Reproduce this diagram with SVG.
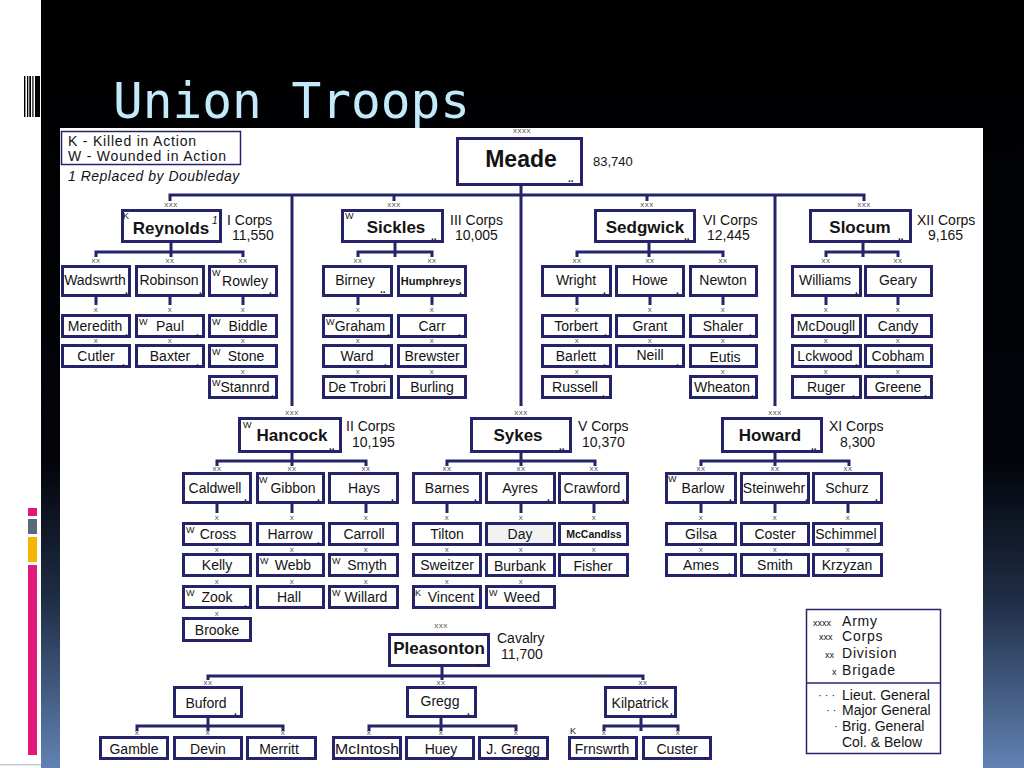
<svg xmlns="http://www.w3.org/2000/svg" width="1024" height="768" viewBox="0 0 1024 768">
<defs>
<linearGradient id="bg" x1="0" y1="0" x2="0" y2="1">
<stop offset="0" stop-color="#000"/>
<stop offset="0.6" stop-color="#02040a"/>
<stop offset="0.78" stop-color="#1f2d45"/>
<stop offset="1" stop-color="#6282b3"/>
</linearGradient>
<style>
.bx{fill:#fff;stroke:#25246b;stroke-width:3}
.ln{fill:none;stroke:#25246b;stroke-width:3}
text{font-family:"Liberation Sans",Arial,sans-serif;fill:#141414}
.n{font-size:14px;text-anchor:middle}
.cb{font-size:17px;font-weight:bold;text-anchor:middle}
.cl{font-size:14px}
.sp{font-size:9px}
.x{font-size:8px;text-anchor:middle;fill:#555;letter-spacing:0.5px}
.d{font-size:10px;font-weight:bold}
.lg{font-size:14px;letter-spacing:0.8px}
</style>
</defs>
<rect x="0" y="0" width="1024" height="768" fill="url(#bg)"/>
<rect x="0" y="0" width="41" height="768" fill="#fff"/>
<rect x="0" y="764" width="41" height="1.5" fill="#c8c8d0"/>
<g id="barcode" fill="#000">
<rect x="24" y="76" width="1.4" height="41"/>
<rect x="27" y="76" width="1.3" height="41"/>
<rect x="29.3" y="76" width="1.7" height="41"/>
<rect x="32.3" y="76" width="1.2" height="41"/>
<rect x="35" y="76" width="5" height="41"/>
</g>
<g id="sidebars">
<rect x="28" y="508" width="9" height="8" fill="#e2187b"/>
<rect x="28" y="519" width="9" height="15" fill="#5b6a7b"/>
<rect x="28" y="537" width="9" height="25" fill="#f6b500"/>
<rect x="28" y="565" width="9" height="190" fill="#e2187b"/>
</g>
<text x="113" y="118" font-size="49" textLength="357" lengthAdjust="spacingAndGlyphs" style="font-family:'DejaVu Sans Mono',monospace;fill:#c3eafa">Union Troops</text>
<rect x="60" y="128" width="923" height="640" fill="#fff"/>

<g id="legend-top">
<rect x="61.5" y="131.5" width="179" height="33" fill="#fff" stroke="#25246b" stroke-width="1.5"/>
<text class="lg" x="68" y="146">K - Killed in Action</text>
<text class="lg" x="68" y="161">W - Wounded in Action</text>
<text x="68" y="181" font-size="14" font-style="italic" letter-spacing="0.5">1 Replaced by Doubleday</text>
</g>

<g id="connectors" class="ln">
<path d="M521,186 V406"/>
<path d="M170,201 V195 H864 V201"/>
<path d="M292,195 V406"/>
<path d="M394,195 V201"/>
<path d="M647,195 V201"/>
<path d="M775,195 V406"/>
<path d="M171,243 V257 M96,257 V252 H243 V257 M96,297 V305 M170,297 V305 M243,297 V305"/>
<path d="M395,243 V257 M358,257 V252 H432 V257 M358,296 V305 M432,296 V305"/>
<path d="M649,243 V257 M577,257 V252 H723 V257 M577,297 V305 M650,297 V305 M723,297 V305"/>
<path d="M863,243 V257 M826,257 V252 H898 V257 M826,297 V305 M898,297 V305"/>
<path d="M292,453 V466 M217,466 V461 H366 V466 M217,504 V513 M292,504 V513 M366,504 V513"/>
<path d="M521,453 V466 M447,466 V461 H595 V466 M447,504 V513 M521,504 V513 M594,504 V513"/>
<path d="M775,453 V466 M701,466 V461 H849 V466 M701,504 V513 M775,504 V513 M848,504 V513"/>
<path d="M442,667 V680 M208,680 V676 H643 V680"/>
<path d="M208,718 V731 M137,731 V726 H283 V731"/>
<path d="M441,718 V731 M369,731 V726 H516 V731"/>
<path d="M641,718 V731 M604,731 V726 H678 V731"/>
</g>

<g id="ech-labels">
<text class="x" x="522" y="133">xxxx</text>
<text class="x" x="171" y="207">xxx</text>
<text class="x" x="394" y="207">xxx</text>
<text class="x" x="647" y="207">xxx</text>
<text class="x" x="864" y="207">xxx</text>
<text class="x" x="292" y="415">xxx</text>
<text class="x" x="521" y="415">xxx</text>
<text class="x" x="775" y="415">xxx</text>
<text class="x" x="441" y="628">xxx</text>
<text class="x" x="96" y="263">xx</text><text class="x" x="170" y="263">xx</text><text class="x" x="243" y="263">xx</text>
<text class="x" x="358" y="263">xx</text><text class="x" x="432" y="263">xx</text>
<text class="x" x="577" y="263">xx</text><text class="x" x="650" y="263">xx</text><text class="x" x="723" y="263">xx</text>
<text class="x" x="826" y="263">xx</text><text class="x" x="898" y="263">xx</text>
<text class="x" x="217" y="471">xx</text><text class="x" x="292" y="471">xx</text><text class="x" x="366" y="471">xx</text>
<text class="x" x="447" y="471">xx</text><text class="x" x="521" y="471">xx</text><text class="x" x="594" y="471">xx</text>
<text class="x" x="701" y="471">xx</text><text class="x" x="775" y="471">xx</text><text class="x" x="848" y="471">xx</text>
<text class="x" x="208" y="685">xx</text><text class="x" x="441" y="685">xx</text><text class="x" x="643" y="685">xx</text>
<text class="x" x="96" y="312">x</text><text class="x" x="96" y="343">x</text>
<text class="x" x="170" y="312">x</text><text class="x" x="170" y="343">x</text>
<text class="x" x="243" y="312">x</text><text class="x" x="243" y="343">x</text><text class="x" x="243" y="374">x</text>
<text class="x" x="358" y="312">x</text><text class="x" x="358" y="343">x</text><text class="x" x="358" y="374">x</text>
<text class="x" x="432" y="312">x</text><text class="x" x="432" y="343">x</text><text class="x" x="432" y="374">x</text>
<text class="x" x="577" y="312">x</text><text class="x" x="577" y="343">x</text><text class="x" x="577" y="374">x</text>
<text class="x" x="650" y="312">x</text><text class="x" x="650" y="343">x</text>
<text class="x" x="723" y="312">x</text><text class="x" x="723" y="343">x</text><text class="x" x="723" y="374">x</text>
<text class="x" x="826" y="312">x</text><text class="x" x="826" y="343">x</text><text class="x" x="826" y="374">x</text>
<text class="x" x="898" y="312">x</text><text class="x" x="898" y="343">x</text><text class="x" x="898" y="374">x</text>
<text class="x" x="217" y="520">x</text><text class="x" x="217" y="552">x</text><text class="x" x="217" y="584">x</text><text class="x" x="217" y="616">x</text>
<text class="x" x="292" y="520">x</text><text class="x" x="292" y="552">x</text><text class="x" x="292" y="584">x</text>
<text class="x" x="366" y="520">x</text><text class="x" x="366" y="552">x</text><text class="x" x="366" y="584">x</text>
<text class="x" x="447" y="520">x</text><text class="x" x="447" y="552">x</text><text class="x" x="447" y="584">x</text>
<text class="x" x="521" y="520">x</text><text class="x" x="521" y="552">x</text><text class="x" x="521" y="584">x</text>
<text class="x" x="594" y="520">x</text><text class="x" x="594" y="552">x</text>
<text class="x" x="701" y="520">x</text><text class="x" x="701" y="552">x</text>
<text class="x" x="775" y="520">x</text><text class="x" x="775" y="552">x</text>
<text class="x" x="848" y="520">x</text><text class="x" x="848" y="552">x</text>
<text class="x" x="137" y="735">x</text><text class="x" x="208" y="735">x</text><text class="x" x="283" y="735">x</text>
<text class="x" x="369" y="735">x</text><text class="x" x="441" y="735">x</text><text class="x" x="516" y="735">x</text>
<text class="x" x="604" y="735">x</text><text class="x" x="678" y="735">x</text>
</g>

<g id="meade">
<rect class="bx" x="457.5" y="138.5" width="124" height="46"/>
<text x="521" y="167" font-size="23" font-weight="bold" text-anchor="middle">Meade</text>
<text class="d" x="568" y="182">..</text>
<text x="593" y="166" font-size="13">83,740</text>
</g>

<g id="reynolds">
<rect class="bx" x="122.5" y="210.5" width="98" height="31"/>
<text class="sp" x="123" y="219">K</text>
<text class="cb" x="171" y="234">Reynolds</text>
<text x="212" y="224" font-size="10" font-style="italic">1</text>
<text class="cl" x="227" y="225">I Corps</text>
<text class="cl" x="232" y="240">11,550</text>
</g>
<g id="wadswrth"><rect class="bx" x="62.5" y="266.5" width="67" height="29"/><text class="n" x="95" y="285">Wadswrth</text><text class="d" x="125" y="294">.</text></g>
<g id="robinson"><rect class="bx" x="136.5" y="266.5" width="67" height="29"/><text class="n" x="169" y="285">Robinson</text><text class="d" x="199" y="294">.</text></g>
<g id="rowley"><rect class="bx" x="209.5" y="266.5" width="67" height="29"/><text class="sp" x="212" y="276">W</text><text class="n" x="245" y="286">Rowley</text><text class="d" x="269" y="294">.</text></g>
<g id="meredith"><rect class="bx" x="62.5" y="315.5" width="67" height="21"/><text class="n" x="95" y="331">Meredith</text><text class="d" x="125" y="336">.</text></g>
<g id="paul"><rect class="bx" x="136.5" y="315.5" width="67" height="21"/><text class="sp" x="139" y="325">W</text><text class="n" x="170" y="331">Paul</text><text class="d" x="196" y="336">.</text></g>
<g id="biddle"><rect class="bx" x="209.5" y="315.5" width="67" height="21"/><text class="sp" x="212" y="325">W</text><text class="n" x="248" y="331">Biddle</text></g>
<g id="cutler"><rect class="bx" x="62.5" y="345.5" width="67" height="21"/><text class="n" x="96" y="361">Cutler</text><text class="d" x="122" y="366">.</text></g>
<g id="baxter"><rect class="bx" x="136.5" y="345.5" width="67" height="21"/><text class="n" x="170" y="361">Baxter</text><text class="d" x="196" y="366">.</text></g>
<g id="stone"><rect class="bx" x="209.5" y="345.5" width="67" height="21"/><text class="sp" x="212" y="355">W</text><text class="n" x="246" y="361">Stone</text></g>
<g id="stannrd"><rect class="bx" x="209.5" y="376.5" width="67" height="21"/><text class="sp" x="212" y="386">W</text><text class="n" x="245" y="392">Stannrd</text><text class="d" x="271" y="397">.</text></g>

<g id="sickles">
<rect class="bx" x="342.5" y="210.5" width="100" height="31"/>
<text class="sp" x="345" y="219">W</text>
<text class="cb" x="396" y="233">Sickles</text>
<text class="d" x="431" y="240">..</text>
<text class="cl" x="450" y="225">III Corps</text>
<text class="cl" x="455" y="240">10,005</text>
</g>
<g id="birney"><rect class="bx" x="323.5" y="266.5" width="68" height="29"/><text class="n" x="355" y="285">Birney</text><text class="d" x="380" y="293">..</text></g>
<g id="humphreys"><rect class="bx" x="398.5" y="266.5" width="67" height="29"/><text x="431" y="285" font-size="11" font-weight="bold" text-anchor="middle">Humphreys</text><text class="d" x="459" y="294">.</text></g>
<g id="graham"><rect class="bx" x="323.5" y="315.5" width="68" height="21"/><text class="sp" x="326" y="325">W</text><text class="n" x="360" y="331">Graham</text><text class="d" x="387" y="336">.</text></g>
<g id="carr"><rect class="bx" x="398.5" y="315.5" width="67" height="21"/><text class="n" x="432" y="331">Carr</text><text class="d" x="458" y="336">.</text></g>
<g id="ward"><rect class="bx" x="323.5" y="345.5" width="68" height="21"/><text class="n" x="357" y="361">Ward</text><text class="d" x="384" y="366">.</text></g>
<g id="brewster"><rect class="bx" x="398.5" y="345.5" width="67" height="21"/><text class="n" x="432" y="361">Brewster</text></g>
<g id="detrobri"><rect class="bx" x="323.5" y="376.5" width="68" height="21"/><text class="n" x="357" y="392">De Trobri</text></g>
<g id="burling"><rect class="bx" x="398.5" y="376.5" width="67" height="21"/><text class="n" x="432" y="392">Burling</text></g>

<g id="sedgwick">
<rect class="bx" x="595.5" y="210.5" width="99" height="31"/>
<text class="cb" x="645" y="233">Sedgwick</text>
<text class="d" x="684" y="240">..</text>
<text class="cl" x="703" y="225">VI Corps</text>
<text class="cl" x="707" y="240">12,445</text>
</g>
<g id="wright"><rect class="bx" x="542.5" y="266.5" width="68" height="29"/><text class="n" x="576" y="285">Wright</text><text class="d" x="603" y="294">.</text></g>
<g id="howe"><rect class="bx" x="616.5" y="266.5" width="67" height="29"/><text class="n" x="650" y="285">Howe</text><text class="d" x="676" y="294">.</text></g>
<g id="newton"><rect class="bx" x="690.5" y="266.5" width="66" height="29"/><text class="n" x="723" y="285">Newton</text></g>
<g id="torbert"><rect class="bx" x="542.5" y="315.5" width="68" height="21"/><text class="n" x="576" y="331">Torbert</text><text class="d" x="604" y="336">.</text></g>
<g id="grant"><rect class="bx" x="616.5" y="315.5" width="67" height="21"/><text class="n" x="650" y="331">Grant</text></g>
<g id="shaler"><rect class="bx" x="690.5" y="315.5" width="66" height="21"/><text class="n" x="723" y="331">Shaler</text><text class="d" x="749" y="336">.</text></g>
<g id="barlett"><rect class="bx" x="542.5" y="345.5" width="68" height="21"/><text class="n" x="576" y="361">Barlett</text><text class="d" x="603" y="366">.</text></g>
<g id="neill"><rect class="bx" x="616.5" y="345.5" width="67" height="21"/><text class="n" x="650" y="360">Neill</text><text class="d" x="676" y="366">.</text></g>
<g id="eutis"><rect class="bx" x="690.5" y="345.5" width="66" height="21"/><text class="n" x="725" y="362">Eutis</text></g>
<g id="russell"><rect class="bx" x="542.5" y="376.5" width="68" height="21"/><text class="n" x="575" y="392">Russell</text><text class="d" x="602" y="397">.</text></g>
<g id="wheaton"><rect class="bx" x="690.5" y="376.5" width="66" height="21"/><text class="n" x="722" y="392">Wheaton</text><text class="d" x="751" y="397">.</text></g>

<g id="slocum">
<rect class="bx" x="810.5" y="210.5" width="100" height="31"/>
<text class="cb" x="860" y="233">Slocum</text>
<text class="d" x="898" y="240">..</text>
<text class="cl" x="917" y="225">XII Corps</text>
<text class="cl" x="928" y="240">9,165</text>
</g>
<g id="williams"><rect class="bx" x="792.5" y="266.5" width="68" height="29"/><text class="n" x="825" y="285">Williams</text><text class="d" x="855" y="294">.</text></g>
<g id="geary"><rect class="bx" x="865.5" y="266.5" width="66" height="29"/><text class="n" x="898" y="285">Geary</text></g>
<g id="mcdougll"><rect class="bx" x="792.5" y="315.5" width="68" height="21"/><text class="n" x="826" y="331">McDougll</text></g>
<g id="candy"><rect class="bx" x="865.5" y="315.5" width="66" height="21"/><text class="n" x="898" y="331">Candy</text></g>
<g id="lckwood"><rect class="bx" x="792.5" y="345.5" width="68" height="21"/><text class="n" x="825" y="361">Lckwood</text><text class="d" x="855" y="366">.</text></g>
<g id="cobham"><rect class="bx" x="865.5" y="345.5" width="66" height="21"/><text class="n" x="898" y="361">Cobham</text></g>
<g id="ruger"><rect class="bx" x="792.5" y="376.5" width="68" height="21"/><text class="n" x="826" y="392">Ruger</text><text class="d" x="852" y="397">.</text></g>
<g id="greene"><rect class="bx" x="865.5" y="376.5" width="66" height="21"/><text class="n" x="898" y="392">Greene</text><text class="d" x="924" y="397">.</text></g>

<g id="hancock">
<rect class="bx" x="239.5" y="418.5" width="101" height="33"/>
<text class="sp" x="243" y="428">W</text>
<text class="cb" x="292" y="441">Hancock</text>
<text class="d" x="329" y="450">..</text>
<text class="cl" x="346" y="431">II Corps</text>
<text class="cl" x="352" y="447">10,195</text>
</g>
<g id="caldwell"><rect class="bx" x="183.5" y="473.5" width="67" height="29"/><text class="n" x="215" y="493">Caldwell</text><text class="d" x="244" y="501">.</text></g>
<g id="gibbon"><rect class="bx" x="257.5" y="473.5" width="66" height="29"/><text class="sp" x="259" y="483">W</text><text class="n" x="293" y="493">Gibbon</text><text class="d" x="317" y="501">.</text></g>
<g id="hays"><rect class="bx" x="329.5" y="473.5" width="68" height="29"/><text class="n" x="364" y="493">Hays</text><text class="d" x="391" y="501">.</text></g>
<g id="cross"><rect class="bx" x="183.5" y="523.5" width="67" height="21"/><text class="sp" x="186" y="533">W</text><text class="n" x="218" y="539">Cross</text></g>
<g id="harrow"><rect class="bx" x="257.5" y="523.5" width="66" height="21"/><text class="n" x="290" y="539">Harrow</text><text class="d" x="317" y="544">.</text></g>
<g id="carroll"><rect class="bx" x="329.5" y="523.5" width="68" height="21"/><text class="n" x="364" y="539">Carroll</text></g>
<g id="kelly"><rect class="bx" x="183.5" y="554.5" width="67" height="21"/><text class="n" x="217" y="570">Kelly</text></g>
<g id="webb"><rect class="bx" x="257.5" y="554.5" width="66" height="21"/><text class="sp" x="260" y="564">W</text><text class="n" x="293" y="570">Webb</text></g>
<g id="smyth"><rect class="bx" x="329.5" y="554.5" width="68" height="21"/><text class="sp" x="332" y="564">W</text><text class="n" x="367" y="570">Smyth</text></g>
<g id="zook"><rect class="bx" x="183.5" y="586.5" width="67" height="21"/><text class="sp" x="186" y="596">W</text><text class="n" x="217" y="602">Zook</text><text class="d" x="244" y="607">.</text></g>
<g id="hall"><rect class="bx" x="257.5" y="586.5" width="66" height="21"/><text class="n" x="289" y="602">Hall</text></g>
<g id="willard"><rect class="bx" x="329.5" y="586.5" width="68" height="21"/><text class="sp" x="332" y="596">W</text><text class="n" x="366" y="602">Willard</text></g>
<g id="brooke"><rect class="bx" x="183.5" y="618.5" width="67" height="22"/><text class="n" x="217" y="635">Brooke</text></g>

<g id="sykes">
<rect class="bx" x="471.5" y="418.5" width="99" height="33"/>
<text class="cb" x="518" y="441">Sykes</text>
<text class="d" x="559" y="450">..</text>
<text class="cl" x="578" y="431">V Corps</text>
<text class="cl" x="582" y="447">10,370</text>
</g>
<g id="barnes"><rect class="bx" x="413.5" y="473.5" width="67" height="29"/><text class="n" x="447" y="493">Barnes</text><text class="d" x="474" y="501">.</text></g>
<g id="ayres"><rect class="bx" x="486.5" y="473.5" width="68" height="29"/><text class="n" x="520" y="493">Ayres</text><text class="d" x="547" y="501">.</text></g>
<g id="crawford"><rect class="bx" x="559.5" y="473.5" width="68" height="29"/><text class="n" x="592" y="493">Crawford</text><text class="d" x="622" y="501">.</text></g>
<g id="tilton"><rect class="bx" x="413.5" y="523.5" width="67" height="21"/><text class="n" x="447" y="539">Tilton</text></g>
<g id="day"><rect class="bx" x="486.5" y="523.5" width="68" height="21" style="fill:#f2f2f2"/><text class="n" x="520" y="539">Day</text></g>
<g id="mccandlss"><rect class="bx" x="559.5" y="523.5" width="68" height="21"/><text x="594" y="538" font-size="10.5" font-weight="bold" text-anchor="middle">McCandlss</text></g>
<g id="sweitzer"><rect class="bx" x="413.5" y="554.5" width="67" height="21"/><text class="n" x="447" y="570">Sweitzer</text></g>
<g id="burbank"><rect class="bx" x="486.5" y="554.5" width="68" height="21"/><text class="n" x="520" y="571">Burbank</text></g>
<g id="fisher"><rect class="bx" x="559.5" y="554.5" width="68" height="21"/><text class="n" x="593" y="571">Fisher</text></g>
<g id="vincent"><rect class="bx" x="413.5" y="586.5" width="67" height="21"/><text class="sp" x="415" y="596">K</text><text class="n" x="451" y="602">Vincent</text></g>
<g id="weed"><rect class="bx" x="486.5" y="586.5" width="68" height="21"/><text class="sp" x="489" y="596">W</text><text class="n" x="522" y="602">Weed</text></g>

<g id="howard">
<rect class="bx" x="722.5" y="418.5" width="99" height="33"/>
<text class="cb" x="770" y="441">Howard</text>
<text class="d" x="811" y="450">..</text>
<text class="cl" x="829" y="431">XI Corps</text>
<text class="cl" x="840" y="447">8,300</text>
</g>
<g id="barlow"><rect class="bx" x="666.5" y="473.5" width="69" height="29"/><text class="sp" x="668" y="482">W</text><text class="n" x="703" y="493">Barlow</text><text class="d" x="729" y="501">.</text></g>
<g id="steinwehr"><rect class="bx" x="741.5" y="473.5" width="67" height="29"/><text class="n" x="774" y="493">Steinwehr</text><text class="d" x="805" y="501">.</text></g>
<g id="schurz"><rect class="bx" x="813.5" y="473.5" width="68" height="29"/><text class="n" x="847" y="493">Schurz</text><text class="d" x="875" y="501">.</text></g>
<g id="gilsa"><rect class="bx" x="666.5" y="523.5" width="69" height="21"/><text class="n" x="701" y="539">Gilsa</text></g>
<g id="coster"><rect class="bx" x="741.5" y="523.5" width="67" height="21"/><text class="n" x="775" y="539">Coster</text></g>
<g id="schimmel"><rect class="bx" x="813.5" y="523.5" width="68" height="21"/><text class="n" x="846" y="539">Schimmel</text><text class="d" x="878" y="544">.</text></g>
<g id="ames"><rect class="bx" x="666.5" y="554.5" width="69" height="21"/><text class="n" x="701" y="570">Ames</text><text class="d" x="728" y="575">.</text></g>
<g id="smith"><rect class="bx" x="741.5" y="554.5" width="67" height="21"/><text class="n" x="775" y="570">Smith</text></g>
<g id="krzyzan"><rect class="bx" x="813.5" y="554.5" width="68" height="21"/><text class="n" x="847" y="570">Krzyzan</text></g>

<g id="pleasonton">
<rect class="bx" x="389.5" y="634.5" width="99" height="31"/>
<text class="cb" x="439" y="654">Pleasonton</text>
<text x="477" y="666" font-size="8" font-weight="bold">..</text>
<text class="cl" x="497" y="643">Cavalry</text>
<text class="cl" x="501" y="659">11,700</text>
</g>
<g id="buford"><rect class="bx" x="174.5" y="687.5" width="67" height="29"/><text class="n" x="206" y="708">Buford</text><text class="d" x="234" y="715">.</text></g>
<g id="gregg"><rect class="bx" x="407.5" y="687.5" width="68" height="29"/><text class="n" x="440" y="706">Gregg</text><text class="d" x="467" y="715">.</text></g>
<g id="kilpatrick"><rect class="bx" x="605.5" y="687.5" width="70" height="29"/><text class="n" x="640" y="708">Kilpatrick</text><text class="d" x="670" y="715">.</text></g>
<g id="gamble"><rect class="bx" x="100.5" y="737.5" width="67" height="21"/><text class="n" x="134" y="754">Gamble</text></g>
<g id="devin"><rect class="bx" x="174.5" y="737.5" width="67" height="21"/><text class="n" x="208" y="754">Devin</text></g>
<g id="merritt"><rect class="bx" x="247.5" y="737.5" width="68" height="21"/><text class="n" x="279" y="754">Merritt</text><text class="d" x="308" y="759">.</text></g>
<g id="mcintosh"><rect class="bx" x="333.5" y="737.5" width="67" height="21"/><text class="n" x="367" y="754" textLength="64" lengthAdjust="spacingAndGlyphs">McIntosh</text></g>
<g id="huey"><rect class="bx" x="406.5" y="737.5" width="67" height="21"/><text class="n" x="441" y="754">Huey</text></g>
<g id="jgregg"><rect class="bx" x="479.5" y="737.5" width="68" height="21"/><text class="n" x="513" y="754">J. Gregg</text></g>
<g id="frnswrth"><rect class="bx" x="569.5" y="737.5" width="67" height="21"/><text class="sp" x="570" y="734">K</text><text class="n" x="602" y="754">Frnswrth</text><text class="d" x="631" y="759">.</text></g>
<g id="custer"><rect class="bx" x="643.5" y="737.5" width="67" height="21"/><text class="n" x="677" y="754">Custer</text><text class="d" x="704" y="759">.</text></g>

<g id="legend-bottom">
<rect x="806.5" y="609.5" width="134" height="144" fill="#fff" stroke="#25246b" stroke-width="1.5"/>
<line x1="806.5" y1="683" x2="940.5" y2="683" stroke="#25246b" stroke-width="1.5"/>
<text x="813" y="626" font-size="9">xxxx</text><text class="lg" x="842" y="626">Army</text>
<text x="819" y="640" font-size="9">xxx</text><text class="lg" x="842" y="641">Corps</text>
<text x="825" y="658" font-size="9">xx</text><text class="lg" x="842" y="658">Division</text>
<text x="832" y="675" font-size="9">x</text><text class="lg" x="842" y="675">Brigade</text>
<text x="818" y="699" font-size="11">· · ·</text><text class="cl" x="842" y="700">Lieut. General</text>
<text x="826" y="714" font-size="11">· ·</text><text class="cl" x="842" y="715">Major General</text>
<text x="834" y="730" font-size="11">·</text><text class="cl" x="842" y="731">Brig. General</text>
<text class="cl" x="842" y="747">Col. &amp; Below</text>
</g>
</svg>
